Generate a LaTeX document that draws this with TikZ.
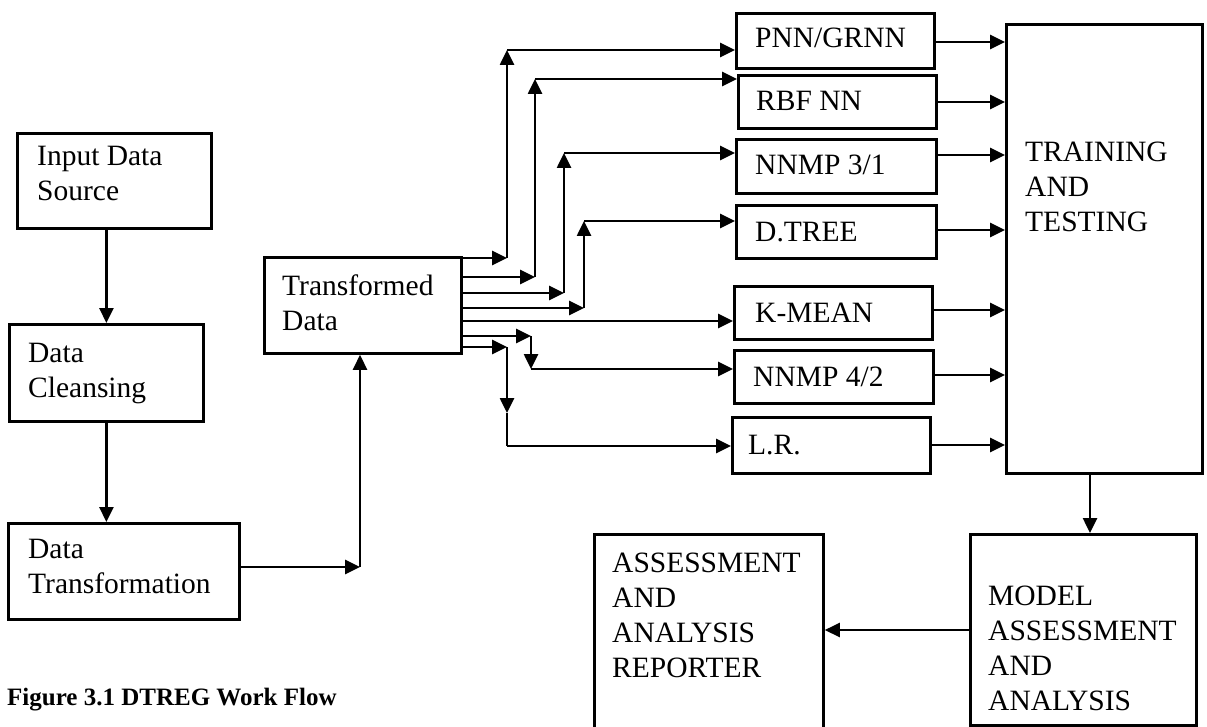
\documentclass[tikz,border=0pt]{standalone}
\usepackage{fontspec}
\setmainfont{Liberation Serif}
\usetikzlibrary{arrows.meta,calc}
% left-aligned multi-line label whose baseline is that of its first line
\newcommand{\mylines}[1]{\begin{tabular}[t]{@{}l@{}}#1\end{tabular}}

\begin{document}
\begin{tikzpicture}[x=1pt,y=-1pt,
  box/.style={draw,line width=2.8pt,inner sep=0pt,anchor=north west},
  lbl/.style={inner sep=0pt,anchor=base west,font=\fontsize{29.5}{35}\selectfont},
  flow/.style={line width=2.6pt,-{Triangle[length=15pt,width=14pt]}},
  wire/.style={line width=2.6pt},
]
\useasboundingbox (0,0) rectangle (1207,727);
\clip (0,0) rectangle (1207,727);

% ---------- preparation chain ----------
\node[box,minimum width=194pt,minimum height=95pt] (src) at (16,132) {};
\node[lbl] (srct) at ($(src.north west)+(21,34)$) {\mylines{Input Data\\Source}};
\node[box,minimum width=194pt,minimum height=97pt] (cln) at (8,323) {};
\node[lbl] (clnt) at ($(cln.north west)+(20,39)$) {\mylines{Data\\Cleansing}};
\node[box,minimum width=231pt,minimum height=96pt] (dtf) at (7,522) {};
\node[lbl] (dtft) at ($(dtf.north west)+(21,36)$) {\mylines{Data\\Transformation}};
\node[box,minimum width=197pt,minimum height=96pt] (tfd) at (263,256) {};
\node[lbl] (tfdt) at ($(tfd.north west)+(19,39)$) {\mylines{Transformed\\Data}};

% ---------- models ----------
\node[box,minimum width=198pt,minimum height=55pt] (pnn) at (735,12) {};
\node[lbl] (pnnt) at ($(pnn.north west)+(20,36)$) {PNN/GRNN};
\node[box,minimum width=198pt,minimum height=53pt] (rbf) at (737,74) {};
\node[lbl] (rbft) at ($(rbf.north west)+(19,37)$) {RBF NN};
\node[box,minimum width=200pt,minimum height=54pt] (nna) at (735,138) {};
\node[lbl] (nnat) at ($(nna.north west)+(20,37)$) {NNMP 3/1};
\node[box,minimum width=200pt,minimum height=53pt] (dtr) at (735,204) {};
\node[lbl] (dtrt) at ($(dtr.north west)+(20,38)$) {D.TREE};
\node[box,minimum width=198pt,minimum height=53pt] (kmn) at (733,285) {};
\node[lbl] (kmnt) at ($(kmn.north west)+(22,37)$) {K-MEAN};
\node[box,minimum width=199pt,minimum height=53pt] (nnb) at (733,349) {};
\node[lbl] (nnbt) at ($(nnb.north west)+(20,37)$) {NNMP 4/2};
\node[box,minimum width=198pt,minimum height=56pt] (lrg) at (731,416) {};
\node[lbl] (lrgt) at ($(lrg.north west)+(17,38)$) {L.R.};

% ---------- evaluation ----------
\node[box,minimum width=196pt,minimum height=449pt] (trn) at (1005,23) {};
\node[lbl] (trnt) at ($(trn.north west)+(20,139)$) {\mylines{TRAINING\\AND\\TESTING}};
\node[box,minimum width=226pt,minimum height=191pt] (mdl) at (969,533) {};
\node[lbl] (mdlt) at ($(mdl.north west)+(19,72)$) {\mylines{MODEL\\ASSESSMENT\\AND\\ANALYSIS}};
\node[box,minimum width=229pt,minimum height=220pt] (rep) at (593,533) {};
\node[lbl] (rept) at ($(rep.north west)+(19,39)$) {\mylines{ASSESSMENT\\AND\\ANALYSIS\\REPORTER}};

\node[inner sep=0pt,anchor=base west,font=\fontsize{25}{30}\selectfont\bfseries] (cap) at (7,705) {Figure 3.1 DTREG Work Flow};

% ---------- preparation connectors ----------
\draw[flow] (src.south -| cln.north) -- (cln.north);
\draw[flow] (cln.south) -- (cln.south |- dtf.north);
\coordinate (j0) at (360,567);
\draw[flow] (dtf.east |- j0) -- (j0);
\draw[flow] (j0) -- (j0 |- tfd.south);

% ---------- fan-out to the models ----------
\coordinate (a1) at (507,258); \coordinate (b1) at (507,50);
\draw[flow] (tfd.east |- a1) -- (a1);
\draw[flow] (a1) -- (b1);
\draw[flow] (b1) -- (b1 -| pnn.west);

\coordinate (a2) at (535,277); \coordinate (b2) at (535,79);
\draw[flow] (tfd.east |- a2) -- (a2);
\draw[flow] (a2) -- (b2);
\draw[flow] (b2) -- (b2 -| rbf.west);

\coordinate (a3) at (564,293); \coordinate (b3) at (564,153);
\draw[flow] (tfd.east |- a3) -- (a3);
\draw[flow] (a3) -- (b3);
\draw[flow] (b3) -- (b3 -| nna.west);

\coordinate (a4) at (584,308); \coordinate (b4) at (584,221);
\draw[flow] (tfd.east |- a4) -- (a4);
\draw[flow] (a4) -- (b4);
\draw[flow] (b4) -- (b4 -| dtr.west);

\coordinate (a5) at (600,321);
\draw[flow] (tfd.east |- a5) -- (a5 -| kmn.west);

\coordinate (a6) at (531,336); \coordinate (b6) at (531,369);
\draw[flow] (tfd.east |- a6) -- (a6);
\draw[flow] (a6) -- (b6);
\draw[flow] (b6) -- (b6 -| nnb.west);

\coordinate (a7) at (507,347); \coordinate (b7) at (507,413); \coordinate (c7) at (507,446);
\draw[flow] (tfd.east |- a7) -- (a7);
\draw[flow] (a7) -- (b7);
\draw[wire] (b7) -- (c7);
\draw[flow] (c7) -- (c7 -| lrg.west);

% ---------- models into training ----------
\coordinate (o1) at (1000,42);
\coordinate (o2) at (1000,102);
\coordinate (o3) at (1000,155);
\coordinate (o4) at (1000,230);
\coordinate (o5) at (1000,310);
\coordinate (o6) at (1000,375);
\coordinate (o7) at (1000,445);
\draw[flow] (pnn.east |- o1) -- (trn.west |- o1);
\draw[flow] (rbf.east |- o2) -- (trn.west |- o2);
\draw[flow] (nna.east |- o3) -- (trn.west |- o3);
\draw[flow] (dtr.east |- o4) -- (trn.west |- o4);
\draw[flow] (kmn.east |- o5) -- (trn.west |- o5);
\draw[flow] (nnb.east |- o6) -- (trn.west |- o6);
\draw[flow] (lrg.east |- o7) -- (trn.west |- o7);

% ---------- evaluation connectors ----------
\coordinate (d1) at (1090,500);
\draw[flow] (trn.south -| d1) -- (mdl.north -| d1);
\coordinate (d2) at (900,630);
\draw[flow] (mdl.west |- d2) -- (rep.east |- d2);
\end{tikzpicture}
\end{document}
